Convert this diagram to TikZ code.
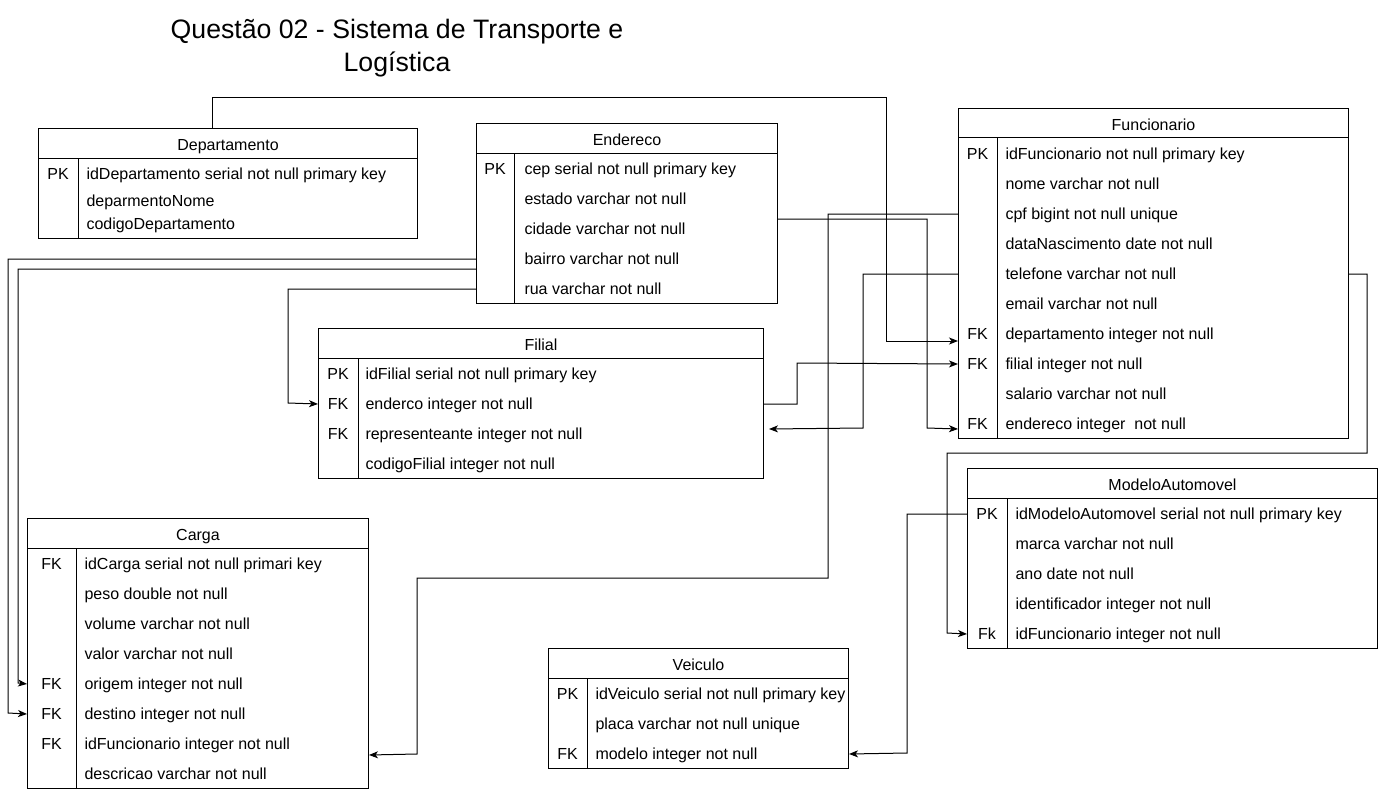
\documentclass[tikz,border=0pt]{standalone}
\usepackage{fontspec}
\setmainfont{Liberation Sans}
\usepackage{tikz}
\usetikzlibrary{calc}
\usetikzlibrary{arrows.meta}
\usetikzlibrary{positioning}
\tikzset{tbl/.style={rectangle,draw=black,anchor=north west,inner sep=0pt}}
\tikzset{hdr/.style={font=\fontsize{16}{19}\selectfont,inner sep=0pt,text height=11.5pt,text depth=0pt,yshift=-1pt}}
\tikzset{keyc/.style={hdr}}
\tikzset{fld/.style={hdr,anchor=west}}
\tikzset{ttl/.style={font=\fontsize{26.67}{33}\selectfont,inner sep=0pt,anchor=base}}

\begin{document}
\begin{tikzpicture}[x=1pt,y=-1pt,line width=1pt,>={Stealth[length=9pt,width=7pt,inset=2.5pt]}]
\useasboundingbox (0,0) rectangle (1378,789);
\node[ttl] (title1) at (397,39) {Questão 02 - Sistema de Transporte e};
\node[ttl] (title2) at (397,72) {Logística};

% Departamento
\node[tbl, minimum width=379, minimum height=110] (dep) at (38,128) {};
\node[hdr] (depT) at ($(dep.north)+(0,16)$) {Departamento};
\draw ($(dep.north west)+(0,30)$) -- ($(dep.north east)+(0,30)$);
\draw ($(dep.north west)+(40,30)$) -- ($(dep.south west)+(40,0)$);
\node[keyc] (depK1) at (58,173) {PK};
\node[fld] (dep1) at (86,173) {idDepartamento serial not null primary key};
\node[fld] (dep2) at (86,200) {deparmentoNome};
\node[fld] (dep3) at (86,223) {codigoDepartamento};

% Endereco
\node[tbl, minimum width=301, minimum height=180] (ender) at (476,123) {};
\node[hdr] (enderT) at ($(ender.north)+(0,16)$) {Endereco};
\draw ($(ender.north west)+(0,30)$) -- ($(ender.north east)+(0,30)$);
\draw ($(ender.north west)+(38,30)$) -- ($(ender.south west)+(38,0)$);
\foreach \k/\f [count=\i] in {PK/cep serial not null primary key, /estado varchar not null,
  /cidade varchar not null, /bairro varchar not null, /rua varchar not null} {
  \node[keyc] (enderK\i) at (495,138+30*\i) {\k};
  \node[fld] (ender\i) at (524,138+30*\i) {\f};
}

% Funcionario
\node[tbl, minimum width=390, minimum height=330] (fun) at (958,108) {};
\node[hdr] (funT) at ($(fun.north)+(0,16)$) {Funcionario};
\draw ($(fun.north west)+(0,30)$) -- ($(fun.north east)+(0,30)$);
\draw ($(fun.north west)+(39,30)$) -- ($(fun.south west)+(39,0)$);
\foreach \k/\f [count=\i] in {PK/idFuncionario not null primary key, /nome varchar not null,
  /cpf bigint not null unique, /dataNascimento date not null, /telefone varchar not null,
  /email varchar not null, FK/departamento integer not null, FK/filial integer not null,
  /salario varchar not null, FK/endereco integer\ \ not null} {
  \node[keyc] (funK\i) at (977.5,123+30*\i) {\k};
  \node[fld] (fun\i) at (1005,123+30*\i) {\f};
}

% Filial
\node[tbl, minimum width=445, minimum height=150] (fil) at (318,328) {};
\node[hdr] (filT) at ($(fil.north)+(0,16)$) {Filial};
\draw ($(fil.north west)+(0,30)$) -- ($(fil.north east)+(0,30)$);
\draw ($(fil.north west)+(40,30)$) -- ($(fil.south west)+(40,0)$);
\foreach \k/\f [count=\i] in {PK/idFilial serial not null primary key, FK/enderco integer not null,
  FK/representeante integer not null, /codigoFilial integer not null} {
  \node[keyc] (filK\i) at (338,343+30*\i) {\k};
  \node[fld] (fil\i) at (365,343+30*\i) {\f};
}

% Carga
\node[tbl, minimum width=341, minimum height=270] (car) at (27,518) {};
\node[hdr] (carT) at ($(car.north)+(0,16)$) {Carga};
\draw ($(car.north west)+(0,30)$) -- ($(car.north east)+(0,30)$);
\draw ($(car.north west)+(49,30)$) -- ($(car.south west)+(49,0)$);
\foreach \k/\f [count=\i] in {FK/idCarga serial not null primari key, /peso double not null,
  /volume varchar not null, /valor varchar not null, FK/origem integer not null,
  FK/destino integer not null, FK/idFuncionario integer not null, /descricao varchar not null} {
  \node[keyc] (carK\i) at (51.5,533+30*\i) {\k};
  \node[fld] (car\i) at (84,533+30*\i) {\f};
}

% ModeloAutomovel
\node[tbl, minimum width=410, minimum height=180] (mod) at (967,468) {};
\node[hdr] (modT) at ($(mod.north)+(0,16)$) {ModeloAutomovel};
\draw ($(mod.north west)+(0,30)$) -- ($(mod.north east)+(0,30)$);
\draw ($(mod.north west)+(40,30)$) -- ($(mod.south west)+(40,0)$);
\foreach \k/\f [count=\i] in {PK/idModeloAutomovel serial not null primary key, /marca varchar not null,
  /ano date not null, /identificador integer not null, Fk/idFuncionario integer not null} {
  \node[keyc] (modK\i) at (987,483+30*\i) {\k};
  \node[fld] (mod\i) at (1015,483+30*\i) {\f};
}

% Veiculo
\node[tbl, minimum width=300, minimum height=120] (vei) at (548,648) {};
\node[hdr] (veiT) at ($(vei.north)+(0,16)$) {Veiculo};
\draw ($(vei.north west)+(0,30)$) -- ($(vei.north east)+(0,30)$);
\draw ($(vei.north west)+(39,30)$) -- ($(vei.south west)+(39,0)$);
\foreach \k/\f [count=\i] in {PK/idVeiculo serial not null primary key, /placa varchar not null unique,
  FK/modelo integer not null} {
  \node[keyc] (veiK\i) at (567.5,663+30*\i) {\k};
  \node[fld] (vei\i) at (595,663+30*\i) {\f};
}

% ligacoes
\draw[->] ($(dep.north)+(-15.5,0)$) |- (886,98) |- ($(fun.west |- fun7)+(0,7)$);
\draw[->] ($(ender.east |- ender3)+(0,-10)$) -| (927,428) -- ($(fun.west |- fun10)+(0,5)$);
\draw[->] (fun.west |- fun3) -| (828,578) -| (417,754) -- ($(car.east |- car7)+(0,11)$);
\draw[->] (fun.west |- fun5) -| (863,428) -- ($(fil.east |- fil3)+(5,-5)$);
\draw[->] (fil.east |- fil2) -| (797,363) -- (fun.west |- fun8);
\draw[->] (fun.east |- fun5) -| (1367,453) -| (947,633) -- (mod.west |- mod5);
\draw[->] (mod.west |- mod1) -| (907,753) -- (vei.east |- vei3);
\draw[->] (ender.west |- ender4) -| (8,713) -- (car.west |- car6);
\draw[->] ($(ender.west |- ender4)+(0,10)$) -| (18,683) -- (car.west |- car5);
\draw[->] (ender.west |- ender5) -| (288,403) -- (fil.west |- fil2);
\end{tikzpicture}
\end{document}
